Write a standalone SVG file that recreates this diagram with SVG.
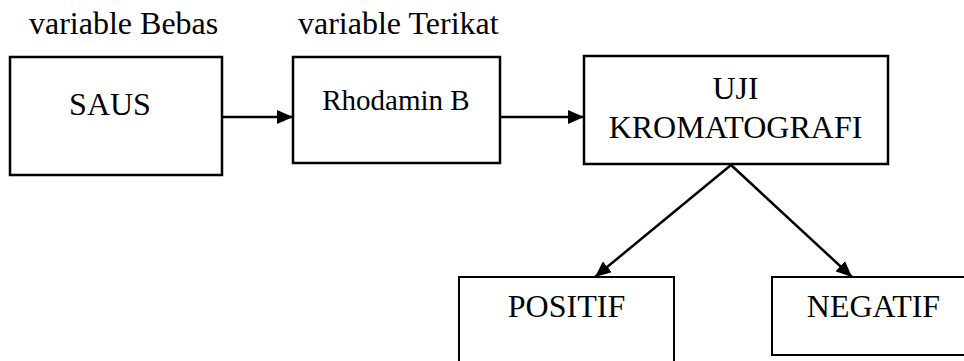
<svg xmlns="http://www.w3.org/2000/svg" width="964" height="361" viewBox="0 0 964 361">
<style>
.box{fill:#fff;stroke:#000;stroke-width:2.5}
.thin{fill:#fff;stroke:#000;stroke-width:2}
text{font-family:'Liberation Serif','Times New Roman',serif;fill:#000;font-size:32px}
.mid{text-anchor:middle}
.edge{stroke:#000;stroke-width:2.5;fill:none}
</style>
<defs>
<marker id="ah" markerWidth="16" markerHeight="14" refX="16" refY="7" orient="auto" markerUnits="userSpaceOnUse" viewBox="0 0 16 14">
<path d="M0,0 L16,7 L0,14 Z" fill="#000"/>
</marker>
</defs>
<g id="label-bebas"><text x="29" y="34">variable Bebas</text></g>
<g id="label-terikat"><text x="298" y="34">variable Terikat</text></g>
<g id="saus"><rect class="box" x="10" y="57" width="212" height="118"/><text class="mid" x="110" y="115">SAUS</text></g>
<g id="rhodamin"><rect class="box" x="293" y="57" width="207" height="106"/><text class="mid" x="396" y="110" style="font-size:29px">Rhodamin B</text></g>
<g id="uji"><rect class="box" x="584" y="56" width="304" height="108"/><text class="mid" x="735.5" y="99">UJI</text><text class="mid" x="735.5" y="138">KROMATOGRAFI</text></g>
<g id="positif"><rect class="thin" x="459" y="277" width="215" height="100"/><text class="mid" x="566.5" y="317">POSITIF</text></g>
<g id="negatif"><rect class="thin" x="772" y="277" width="200" height="78"/><text class="mid" x="873.5" y="317">NEGATIF</text></g>
<g id="connectors">
<line class="edge" x1="222" y1="117" x2="293" y2="117" marker-end="url(#ah)"/>
<line class="edge" x1="500" y1="117" x2="584" y2="117" marker-end="url(#ah)"/>
<line class="edge" x1="731" y1="165" x2="595" y2="277" marker-end="url(#ah)"/>
<line class="edge" x1="731" y1="165" x2="852" y2="277" marker-end="url(#ah)"/>
</g>
</svg>
